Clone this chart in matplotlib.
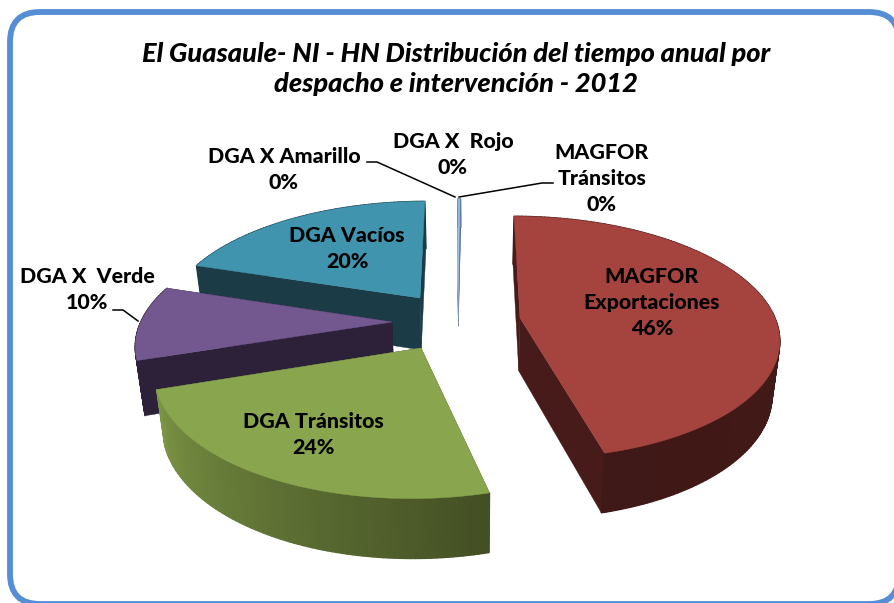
import numpy as np
import matplotlib
matplotlib.use('Agg')
import matplotlib.pyplot as plt
from matplotlib.collections import PolyCollection
from matplotlib.patches import FancyBboxPatch, Polygon

# chart data, clockwise from the top of the pie
names = ['MAGFOR\nTránsitos', 'MAGFOR\nExportaciones', 'DGA Tránsitos', 'DGA X  Verde',
         'DGA Vacíos', 'DGA X Amarillo', 'DGA X  Rojo']
values = [0.07, 46, 24, 10, 20, 0.07, 0.07]
title = 'El Guasaule- NI - HN Distribución del tiempo anual por\ndespacho e intervención - 2012'

# look of each slice
top_colors = ['#4A7EBB', '#A5433F', '#89A54E', '#73578F', '#4094AD', '#E0A060', '#A8C4E6']
wall_colors = ['#2F5277', '#471B19', '#434F24', '#2C2139', '#1B3B46', '#8C5A28', '#7D98B8']
arc_colors = ['#2F5277', '#3F1917', '#7C9545', '#2C2139', '#1B3B46', '#8C5A28', '#7D98B8']
apexes = [(458, 295), (520, 318), (421, 348), (392, 322), (420, 298), (458, 295), (458, 295)]
radii = [1, 1, 0.985, 0.98, 1, 1, 1]
depths = [0.6, 1, 0.97, 1, 1, 0.6, 0.6]
label_pos = [(602, 178), (652, 302), (313, 434), (87, 289), (347, 248), (284, 169), (453, 154)]

# perspective of the pie plane, in pixels
cx, cy, sx, sy, persp = 470, 318, 255, 118, 0.16
depth_px, shrink = 53, 0.975


def project(u, v):
    d = 1 + persp * v
    return cx + sx * u / d, cy - sy * v / d


def unproject(x, y):
    dy = cy - y
    v = dy / (sy - persp * dy)
    return (x - cx) * (1 + persp * v) / sx, v


def lower(x, y, v, depth):
    d = 1 + persp * v
    return cx + (x - cx) * shrink, y + depth * depth_px / d ** 0.7


fig = plt.figure(figsize=(8.95, 6.03), dpi=100)
ax = fig.add_axes([0, 0, 1, 1])
ax.set_xlim(0, 895)
ax.set_ylim(603, 0)
ax.axis('off')

ax.add_patch(FancyBboxPatch((10, 12), 889, 592, boxstyle='round,pad=0,rounding_size=30',
                            fc='white', ec='#558ED5', lw=4.2, zorder=0))

fractions = np.array(values) / sum(values)
starts = np.concatenate([[0], np.cumsum(fractions)[:-1]]) * 2 * np.pi
ends = np.cumsum(fractions) * 2 * np.pi

# paint from the back to the front
order = [0, 5, 6, 4, 3, 2, 1]
z = 1
for i in order:
    u0, v0 = unproject(*apexes[i])
    theta = np.linspace(starts[i], ends[i], max(int(np.degrees(ends[i] - starts[i])), 2) + 1)
    us = u0 + radii[i] * np.sin(theta)
    vs = v0 + radii[i] * np.cos(theta)
    xs, ys = project(us, vs)
    bx, by = lower(xs, ys, vs, depths[i])
    ax0, ay0 = apexes[i]
    abx, aby = lower(ax0, ay0, v0, depths[i])

    for k in (0, -1):
        ax.add_patch(Polygon([(ax0, ay0), (xs[k], ys[k]), (bx[k], by[k]), (abx, aby)],
                             fc=wall_colors[i], ec=wall_colors[i], lw=0.3, zorder=z))
    z += 1

    quads = []
    cols = []
    c0 = np.array(matplotlib.colors.to_rgb(wall_colors[i]))
    c1 = np.array(matplotlib.colors.to_rgb(arc_colors[i]))
    for k in range(len(theta) - 1):
        quads.append([(xs[k], ys[k]), (xs[k + 1], ys[k + 1]), (bx[k + 1], by[k + 1]), (bx[k], by[k])])
        cols.append(tuple(c0 + (c1 - c0) * k / max(len(theta) - 2, 1)))
    # solid band under the quads, so no white shows at the seams
    band = np.column_stack([np.r_[xs, bx[::-1]], np.r_[ys, by[::-1]]])
    ax.add_patch(Polygon(band, fc=cols[len(cols) // 2], ec='none', zorder=z))
    z += 1
    ax.add_collection(PolyCollection(quads, facecolors=cols, edgecolors=cols, linewidths=1.0, zorder=z))
    z += 1

    ax.add_patch(Polygon(np.column_stack([np.r_[ax0, xs], np.r_[ay0, ys]]),
                         fc=top_colors[i], ec=top_colors[i], lw=0.3, zorder=z))
    z += 1

# leader lines
ax.plot([367, 377, 455], [162, 162, 197], color='black', lw=1.1, zorder=z)
ax.plot([553, 542, 459], [183, 183, 197], color='black', lw=1.1, zorder=z)
ax.plot([113, 123, 138], [310, 310, 321], color='black', lw=1.1, zorder=z)

font = 'Lato'
for name, val, pos in zip(names, fractions, label_pos):
    ax.text(pos[0], pos[1] + 0.5, f'{name}\n{val * 100:.0f}%', ha='center', va='center', family=font,
            fontweight='black', fontsize=15.4, linespacing=1.46, color='black', zorder=z + 1)

ax.text(456, 69, title, ha='center', va='center', family=font, fontweight='black', style='italic',
        fontsize=19.6, linespacing=1.27, color='black', zorder=z + 1)

fig.savefig('out.png', dpi=100)
